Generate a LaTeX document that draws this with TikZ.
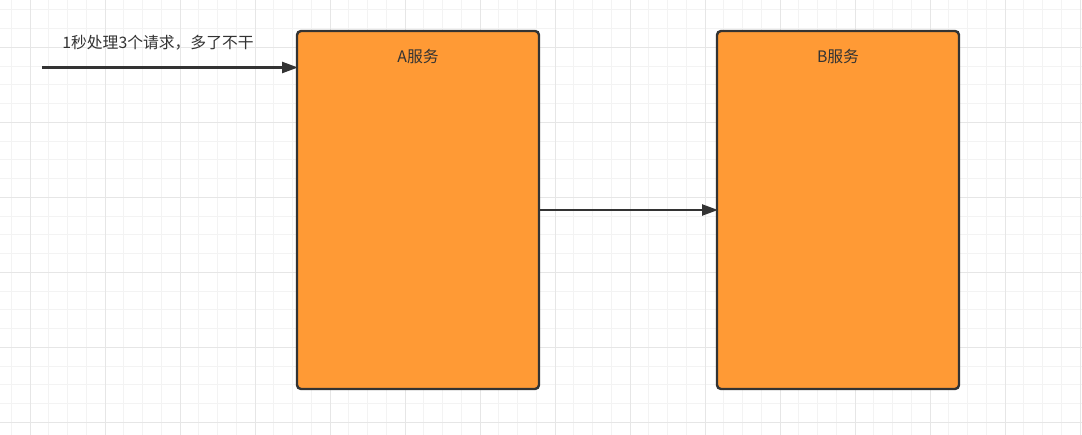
\documentclass[tikz,border=0pt]{standalone}
\usepackage{fontspec}
\setmainfont{Noto Sans CJK SC}
\usetikzlibrary{arrows.meta}
\definecolor{minorgrid}{HTML}{F3F3F3}
\definecolor{majorgrid}{HTML}{E6E6E6}
\definecolor{boxfill}{HTML}{FF9A35}
\definecolor{ink}{HTML}{333333}
\tikzset{
  svc/.style={draw=ink, fill=boxfill, line width=2.4pt, rounded corners=4pt,
    minimum width=242pt, minimum height=358pt, inner sep=0pt, outer sep=0pt},
  lbl/.style={text=ink, font=\fontsize{15.8pt}{18pt}\selectfont, inner sep=0pt},
  conn/.style={draw=ink, line width=2.4pt, -{Triangle[length=16pt,width=11pt]}, shorten >=-1pt}
}
\begin{document}
\begin{tikzpicture}[x=1pt,y=-1pt]
\useasboundingbox (0,0) rectangle (1082,435);
\fill[white] (0,0) rectangle (1082,435);
% minor grid
\foreach \i in {0,...,58} {
  \draw[minorgrid, line width=1pt] ({11.25+18.75*\i},0) -- ({11.25+18.75*\i},435);
}
\foreach \j in {0,...,23} {
  \draw[minorgrid, line width=1pt] (0,{10+18.75*\j}) -- (1082,{10+18.75*\j});
}
% major grid
\foreach \i in {0,...,14} {
  \draw[majorgrid, line width=1pt] ({30+75*\i},0) -- ({30+75*\i},435);
}
\foreach \j in {0,...,5} {
  \draw[majorgrid, line width=1pt] (0,{47.5+75*\j}) -- (1082,{47.5+75*\j});
}
% boxes
\node[svc] (A) at (418,210) {};
\node[svc] (B) at (838,210) {};
\node[lbl] (Alabel) at (418,57) {A服务};
\node[lbl] (Blabel) at (838,57) {B服务};
% incoming
\coordinate (in) at (42,67.5);
\node[lbl] (rate) at (158,43) {1秒处理3个请求，多了不干};
\draw[conn] (in) -- (in -| A.west);
\draw[conn] (A.east) -- (B.west);
\end{tikzpicture}
\end{document}
